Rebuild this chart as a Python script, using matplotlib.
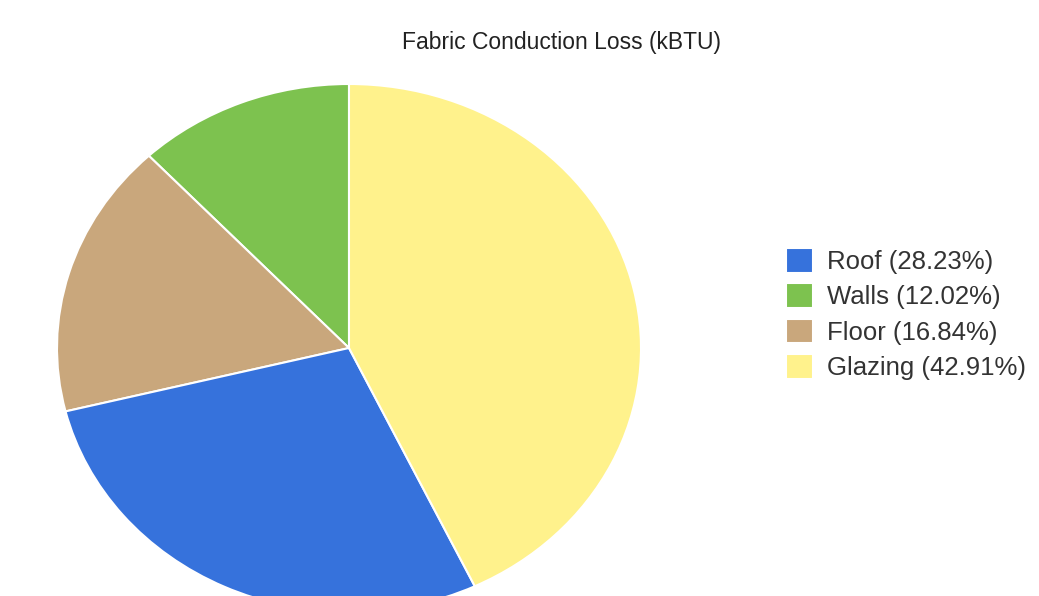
import matplotlib.pyplot as plt

labels = ['Roof', 'Walls', 'Floor', 'Glazing']
shares = [28.23, 12.02, 16.84, 42.91]
colors = ['#3672DC', '#7DC24F', '#C9A77C', '#FFF28C']

# drawing order, counterclockwise from 12 o'clock
pie_order = ['Walls', 'Floor', 'Roof', 'Glazing']

plt.rcParams['font.family'] = ['Liberation Sans', 'DejaVu Sans']

fig = plt.figure(figsize=(10.39, 5.96), dpi=100)
# pie is stretched a bit wider than tall, and runs off the bottom
ax = fig.add_axes([57 / 1039, (596 - 612) / 596, 584 / 1039, 528 / 596])

idx = [labels.index(n) for n in pie_order]
wedges, _ = ax.pie([shares[i] for i in idx], colors=[colors[i] for i in idx],
                   startangle=90, counterclock=True, radius=1,
                   wedgeprops=dict(edgecolor='white', linewidth=1.5))
ax.set_aspect('auto')
ax.set_xlim(-1, 1)
ax.set_ylim(-1, 1)
ax.axis('off')

handles = [wedges[pie_order.index(n)] for n in labels]
leg_labels = [f'{n} ({s:.2f}%)' for n, s in zip(labels, shares)]
fig.legend(handles, leg_labels, loc='upper left',
           bbox_to_anchor=(786 / 1039, 1 - 248 / 596), frameon=False,
           fontsize=18.5, handlelength=1.05, handleheight=1.1,
           handletextpad=0.55, labelspacing=0.36, borderpad=0,
           borderaxespad=0, labelcolor='#333333')

fig.text(561 / 1039, 1 - 42 / 596, 'Fabric Conduction Loss (kBTU)',
         ha='center', va='center', fontsize=16.5, color='#222222')

fig.savefig('out.png', dpi=100)
